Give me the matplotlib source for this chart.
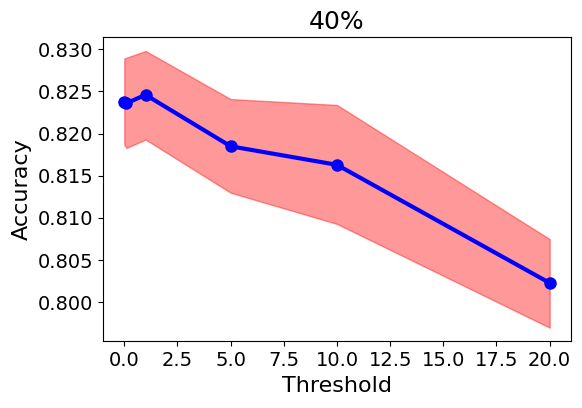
import matplotlib
matplotlib.use("Agg")
import matplotlib.pyplot as plt
from matplotlib.ticker import MultipleLocator, FormatStrFormatter

thresholds = [0, 0.1, 1, 5, 10, 20]
accuracy = [0.8238, 0.8236, 0.8246, 0.8185, 0.8163, 0.8023]
upper = [0.8289, 0.8290, 0.8298, 0.8241, 0.8234, 0.8075]
lower = [0.8187, 0.8183, 0.8193, 0.8130, 0.8093, 0.7970]

fig, ax = plt.subplots(figsize=(5.82, 4.08), dpi=100)
ax.fill_between(thresholds, lower, upper, color='red', alpha=0.4)
ax.plot(thresholds, accuracy, color='blue', linewidth=3, marker='o', markersize=8)
ax.set_title("40%", fontsize=18)
ax.set_xlabel("Threshold", fontsize=16)
ax.set_ylabel("Accuracy", fontsize=16)
ax.xaxis.set_major_locator(MultipleLocator(2.5))
ax.yaxis.set_major_locator(MultipleLocator(0.005))
ax.yaxis.set_major_formatter(FormatStrFormatter('%.3f'))
ax.tick_params(labelsize=14)
fig.subplots_adjust(left=0.177, right=0.981, top=0.909, bottom=0.163)
fig.savefig("out.png")
